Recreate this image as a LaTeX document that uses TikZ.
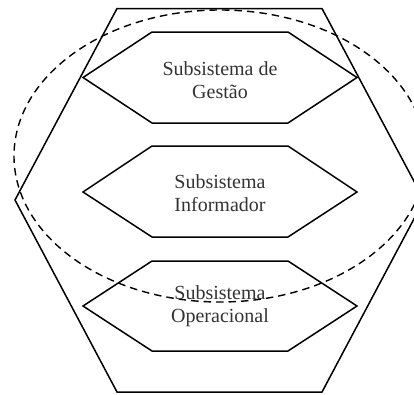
\documentclass[tikz,border=0pt]{standalone}
\usepackage{fontspec}
\setmainfont{Liberation Serif}
\begin{document}
\begin{tikzpicture}[x=1pt,y=-1pt,
  edge/.style={draw=black,line width=1.5pt,line join=miter},
  hexbox/.style={edge},
  ring/.style={draw=black,line width=1.4pt,dash pattern=on 7.5pt off 5pt},
  label/.style={align=center,text=black!80,font=\fontsize{20}{23}\selectfont}
]
\useasboundingbox (0,0) rectangle (414,394);
\begin{scope}
\clip (0,0) rectangle (414,394);
% outer system boundary
\draw[edge] (117,8.5) -- (322,8.5) -- (424,200) -- (322,392) -- (117,392) -- (15,200) -- cycle;
% inner subsystems
\draw[hexbox] (152,32) -- (288,32) -- (357,77.5) -- (288,123) -- (152,123) -- (83,77.5) -- cycle;
\draw[hexbox] (152,146) -- (288,146) -- (357,192) -- (288,237) -- (152,237) -- (83,192) -- cycle;
\draw[hexbox] (152,261) -- (288,261) -- (357,306) -- (288,351) -- (152,351) -- (83,306) -- cycle;
% dashed region
\draw[ring] (220,156) ellipse [x radius=206, y radius=146];
\end{scope}
\node[label] (gestao) at (220,80) {Subsistema de\\Gestão};
\node[label] (informador) at (220,193) {Subsistema\\Informador};
\node[label] (operacional) at (220,306.5) {Subsistema\\Operacional};
\end{tikzpicture}
\end{document}
